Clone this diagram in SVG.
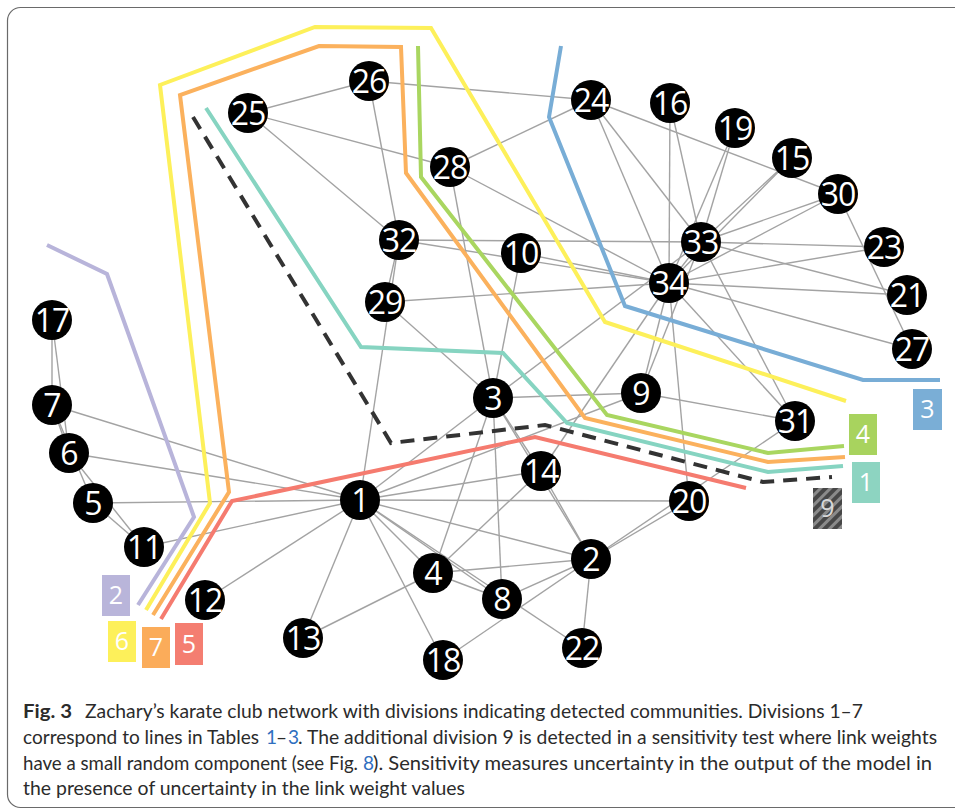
<svg xmlns="http://www.w3.org/2000/svg" width="955" height="809" viewBox="0 0 955 809">
  <style>
    .e { stroke: #a3a3a3; stroke-width: 1.4; fill: none; }
    .d { fill: none; stroke-width: 4; stroke-linejoin: miter; }
    .n circle { fill: #000; }
    .n text { font-family: "Open Sans", "Noto Sans", sans-serif; font-size: 32px; fill: #fff; text-anchor: middle; letter-spacing: -1px; }
    .lab text { font-family: "Open Sans", "Noto Sans", sans-serif; font-size: 25px; fill: #fff; text-anchor: middle; }
    .cap { font-family: Lato, "Liberation Sans", sans-serif; font-size: 19px; fill: #2b2b2b; }
    .lnk { fill: #2f6fbf; }
  </style>
  <defs>
    <pattern id="hatch" width="7" height="7" patternUnits="userSpaceOnUse" patternTransform="rotate(45)">
      <rect width="7" height="7" fill="#474747"/>
      <rect width="3" height="7" fill="#8a8a8a"/>
    </pattern>
  </defs>

  <rect width="955" height="809" fill="#fff"/>
  <rect x="7.5" y="7.5" width="1000" height="800" rx="13" fill="none" stroke="#6a6a6a" stroke-width="1.2"/>

  <!-- links of the karate club network -->
  <g id="edges">
    <line class="e" x1="360" y1="500" x2="591" y2="559"/>
    <line class="e" x1="360" y1="500" x2="493" y2="398"/>
    <line class="e" x1="360" y1="500" x2="433" y2="573"/>
    <line class="e" x1="360" y1="500" x2="93" y2="503"/>
    <line class="e" x1="360" y1="500" x2="69" y2="453"/>
    <line class="e" x1="360" y1="500" x2="52" y2="405"/>
    <line class="e" x1="360" y1="500" x2="502" y2="599"/>
    <line class="e" x1="360" y1="500" x2="641" y2="393"/>
    <line class="e" x1="360" y1="500" x2="144" y2="547"/>
    <line class="e" x1="360" y1="500" x2="205" y2="600"/>
    <line class="e" x1="360" y1="500" x2="303" y2="638"/>
    <line class="e" x1="360" y1="500" x2="541" y2="471"/>
    <line class="e" x1="360" y1="500" x2="443" y2="660"/>
    <line class="e" x1="360" y1="500" x2="689" y2="501"/>
    <line class="e" x1="360" y1="500" x2="582" y2="648"/>
    <line class="e" x1="360" y1="500" x2="399" y2="240"/>
    <line class="e" x1="591" y1="559" x2="493" y2="398"/>
    <line class="e" x1="591" y1="559" x2="433" y2="573"/>
    <line class="e" x1="591" y1="559" x2="502" y2="599"/>
    <line class="e" x1="591" y1="559" x2="541" y2="471"/>
    <line class="e" x1="591" y1="559" x2="443" y2="660"/>
    <line class="e" x1="591" y1="559" x2="689" y2="501"/>
    <line class="e" x1="591" y1="559" x2="582" y2="648"/>
    <line class="e" x1="591" y1="559" x2="795" y2="421"/>
    <line class="e" x1="493" y1="398" x2="433" y2="573"/>
    <line class="e" x1="493" y1="398" x2="502" y2="599"/>
    <line class="e" x1="493" y1="398" x2="641" y2="393"/>
    <line class="e" x1="493" y1="398" x2="521" y2="253"/>
    <line class="e" x1="493" y1="398" x2="541" y2="471"/>
    <line class="e" x1="493" y1="398" x2="450" y2="167"/>
    <line class="e" x1="493" y1="398" x2="385" y2="302"/>
    <line class="e" x1="493" y1="398" x2="701" y2="242"/>
    <line class="e" x1="433" y1="573" x2="502" y2="599"/>
    <line class="e" x1="433" y1="573" x2="303" y2="638"/>
    <line class="e" x1="433" y1="573" x2="541" y2="471"/>
    <line class="e" x1="93" y1="503" x2="52" y2="405"/>
    <line class="e" x1="93" y1="503" x2="144" y2="547"/>
    <line class="e" x1="69" y1="453" x2="52" y2="405"/>
    <line class="e" x1="69" y1="453" x2="144" y2="547"/>
    <line class="e" x1="69" y1="453" x2="52" y2="320"/>
    <line class="e" x1="52" y1="405" x2="52" y2="320"/>
    <line class="e" x1="641" y1="393" x2="795" y2="421"/>
    <line class="e" x1="641" y1="393" x2="701" y2="242"/>
    <line class="e" x1="641" y1="393" x2="669" y2="283"/>
    <line class="e" x1="521" y1="253" x2="669" y2="283"/>
    <line class="e" x1="541" y1="471" x2="669" y2="283"/>
    <line class="e" x1="792" y1="158" x2="701" y2="242"/>
    <line class="e" x1="792" y1="158" x2="669" y2="283"/>
    <line class="e" x1="670" y1="103" x2="701" y2="242"/>
    <line class="e" x1="670" y1="103" x2="669" y2="283"/>
    <line class="e" x1="735" y1="128" x2="701" y2="242"/>
    <line class="e" x1="735" y1="128" x2="669" y2="283"/>
    <line class="e" x1="689" y1="501" x2="669" y2="283"/>
    <line class="e" x1="907" y1="295" x2="701" y2="242"/>
    <line class="e" x1="907" y1="295" x2="669" y2="283"/>
    <line class="e" x1="884" y1="247" x2="701" y2="242"/>
    <line class="e" x1="884" y1="247" x2="669" y2="283"/>
    <line class="e" x1="591" y1="100" x2="369" y2="81"/>
    <line class="e" x1="591" y1="100" x2="450" y2="167"/>
    <line class="e" x1="591" y1="100" x2="838" y2="194"/>
    <line class="e" x1="591" y1="100" x2="701" y2="242"/>
    <line class="e" x1="591" y1="100" x2="669" y2="283"/>
    <line class="e" x1="248" y1="113" x2="369" y2="81"/>
    <line class="e" x1="248" y1="113" x2="450" y2="167"/>
    <line class="e" x1="248" y1="113" x2="399" y2="240"/>
    <line class="e" x1="369" y1="81" x2="399" y2="240"/>
    <line class="e" x1="912" y1="349" x2="838" y2="194"/>
    <line class="e" x1="912" y1="349" x2="669" y2="283"/>
    <line class="e" x1="450" y1="167" x2="669" y2="283"/>
    <line class="e" x1="385" y1="302" x2="399" y2="240"/>
    <line class="e" x1="385" y1="302" x2="669" y2="283"/>
    <line class="e" x1="838" y1="194" x2="701" y2="242"/>
    <line class="e" x1="838" y1="194" x2="669" y2="283"/>
    <line class="e" x1="795" y1="421" x2="701" y2="242"/>
    <line class="e" x1="795" y1="421" x2="669" y2="283"/>
    <line class="e" x1="399" y1="240" x2="701" y2="242"/>
    <line class="e" x1="399" y1="240" x2="669" y2="283"/>
    <line class="e" x1="701" y1="242" x2="669" y2="283"/>
  </g>

  <!-- division lines -->
  <g id="divisions">
    <path class="d" stroke="#b8b4da" d="M47,245 L107,274 L194,517 L138,605"/>
    <path class="d" stroke="#fdf05a" d="M146,610 L210,503 L160,85 L315,27 L431,28 L605,322 L846,401"/>
    <path class="d" stroke="#fbb15d" d="M153,615 L229,492 L180,95 L319,46 L401,47 L406,173 L585,418 L768,462 L845,457"/>
    <path class="d" stroke="#a9d660" d="M418,46 L421,177 L607,415 L768,453 L844,446"/>
    <path class="d" stroke="#86d4c1" d="M206,108 L361,347 L503,353 L567,423 L768,472 L843,466"/>
    <path class="d" stroke="#333" stroke-dasharray="14 9" d="M193,117 L391,443 L545,425 L763,482 L832,477"/>
    <path class="d" stroke="#f57b6f" d="M161,619 L232,501 L535,437 L746,488"/>
    <path class="d" stroke="#78add6" d="M561,46 L549,117 L625,306 L863,380 L940,380"/>
  </g>

  <!-- nodes -->
  <g id="node1" class="n"><circle cx="360" cy="500" r="20"/><text x="360" y="511.5">1</text></g>
  <g id="node2" class="n"><circle cx="591" cy="559" r="20"/><text x="591" y="570.5">2</text></g>
  <g id="node3" class="n"><circle cx="493" cy="398" r="20"/><text x="493" y="409.5">3</text></g>
  <g id="node4" class="n"><circle cx="433" cy="573" r="20"/><text x="433" y="584.5">4</text></g>
  <g id="node5" class="n"><circle cx="93" cy="503" r="20"/><text x="93" y="514.5">5</text></g>
  <g id="node6" class="n"><circle cx="69" cy="453" r="20"/><text x="69" y="464.5">6</text></g>
  <g id="node7" class="n"><circle cx="52" cy="405" r="20"/><text x="52" y="416.5">7</text></g>
  <g id="node8" class="n"><circle cx="502" cy="599" r="20"/><text x="502" y="610.5">8</text></g>
  <g id="node9" class="n"><circle cx="641" cy="393" r="20"/><text x="641" y="404.5">9</text></g>
  <g id="node10" class="n"><circle cx="521" cy="253" r="20"/><text x="521" y="264.5">10</text></g>
  <g id="node11" class="n"><circle cx="144" cy="547" r="20"/><text x="144" y="558.5">11</text></g>
  <g id="node12" class="n"><circle cx="205" cy="600" r="20"/><text x="205" y="611.5">12</text></g>
  <g id="node13" class="n"><circle cx="303" cy="638" r="20"/><text x="303" y="649.5">13</text></g>
  <g id="node14" class="n"><circle cx="541" cy="471" r="20"/><text x="541" y="482.5">14</text></g>
  <g id="node15" class="n"><circle cx="792" cy="158" r="20"/><text x="792" y="169.5">15</text></g>
  <g id="node16" class="n"><circle cx="670" cy="103" r="20"/><text x="670" y="114.5">16</text></g>
  <g id="node17" class="n"><circle cx="52" cy="320" r="20"/><text x="52" y="331.5">17</text></g>
  <g id="node18" class="n"><circle cx="443" cy="660" r="20"/><text x="443" y="671.5">18</text></g>
  <g id="node19" class="n"><circle cx="735" cy="128" r="20"/><text x="735" y="139.5">19</text></g>
  <g id="node20" class="n"><circle cx="689" cy="501" r="20"/><text x="689" y="512.5">20</text></g>
  <g id="node21" class="n"><circle cx="907" cy="295" r="20"/><text x="907" y="306.5">21</text></g>
  <g id="node22" class="n"><circle cx="582" cy="648" r="20"/><text x="582" y="659.5">22</text></g>
  <g id="node23" class="n"><circle cx="884" cy="247" r="20"/><text x="884" y="258.5">23</text></g>
  <g id="node24" class="n"><circle cx="591" cy="100" r="20"/><text x="591" y="111.5">24</text></g>
  <g id="node25" class="n"><circle cx="248" cy="113" r="20"/><text x="248" y="124.5">25</text></g>
  <g id="node26" class="n"><circle cx="369" cy="81" r="20"/><text x="369" y="92.5">26</text></g>
  <g id="node27" class="n"><circle cx="912" cy="349" r="20"/><text x="912" y="360.5">27</text></g>
  <g id="node28" class="n"><circle cx="450" cy="167" r="20"/><text x="450" y="178.5">28</text></g>
  <g id="node29" class="n"><circle cx="385" cy="302" r="20"/><text x="385" y="313.5">29</text></g>
  <g id="node30" class="n"><circle cx="838" cy="194" r="20"/><text x="838" y="205.5">30</text></g>
  <g id="node31" class="n"><circle cx="795" cy="421" r="20"/><text x="795" y="432.5">31</text></g>
  <g id="node32" class="n"><circle cx="399" cy="240" r="20"/><text x="399" y="251.5">32</text></g>
  <g id="node33" class="n"><circle cx="701" cy="242" r="20"/><text x="701" y="253.5">33</text></g>
  <g id="node34" class="n"><circle cx="669" cy="283" r="20"/><text x="669" y="294.5">34</text></g>

  <!-- division labels -->
  <g id="label2" class="lab"><rect x="102" y="575" width="28" height="41" fill="#b9b5da"/><text x="116" y="604">2</text></g>
  <g id="label6" class="lab"><rect x="108" y="621" width="28" height="41" fill="#fdf05a"/><text x="122" y="650">6</text></g>
  <g id="label7" class="lab"><rect x="142" y="627" width="28" height="41" fill="#fbac5a"/><text x="156" y="656">7</text></g>
  <g id="label5" class="lab"><rect x="175" y="623" width="28" height="42" fill="#f47e71"/><text x="189" y="652.5">5</text></g>
  <g id="label3" class="lab"><rect x="913" y="389" width="29" height="41" fill="#7aaed6"/><text x="927.5" y="418">3</text></g>
  <g id="label4" class="lab"><rect x="849" y="414" width="28" height="41" fill="#a8d35e"/><text x="863" y="443">4</text></g>
  <g id="label1" class="lab"><rect x="852" y="462" width="28" height="41" fill="#8dd4c1"/><text x="866" y="491">1</text></g>
  <g id="label9" class="lab"><rect x="813" y="488" width="29" height="41" fill="url(#hatch)"/><text x="827.5" y="517" style="fill:#d8d8d8">9</text></g>

  <!-- caption, set as separate runs so the linked numbers keep their own colour -->
  <g id="caption">
    <text class="cap" x="23" y="718" font-weight="bold" textLength="49" lengthAdjust="spacingAndGlyphs">Fig. 3</text>
    <text class="cap" x="85" y="718" textLength="778" lengthAdjust="spacingAndGlyphs">Zachary’s karate club network with divisions indicating detected communities. Divisions 1–7</text>

    <text class="cap" x="23" y="744" textLength="236" lengthAdjust="spacingAndGlyphs">correspond to lines in Tables</text>
    <text class="cap lnk" x="266" y="744">1</text>
    <text class="cap" x="276" y="744">–</text>
    <text class="cap lnk" x="288" y="744">3</text>
    <text class="cap" x="298" y="744" textLength="639" lengthAdjust="spacingAndGlyphs">. The additional division 9 is detected in a sensitivity test where link weights</text>

    <text class="cap" x="23" y="770" textLength="335" lengthAdjust="spacingAndGlyphs">have a small random component (see Fig.</text>
    <text class="cap lnk" x="363" y="770">8</text>
    <text class="cap" x="373" y="770" textLength="559" lengthAdjust="spacingAndGlyphs">). Sensitivity measures uncertainty in the output of the model in</text>

    <text class="cap" x="23" y="795" textLength="442" lengthAdjust="spacingAndGlyphs">the presence of uncertainty in the link weight values</text>
  </g>
</svg>
